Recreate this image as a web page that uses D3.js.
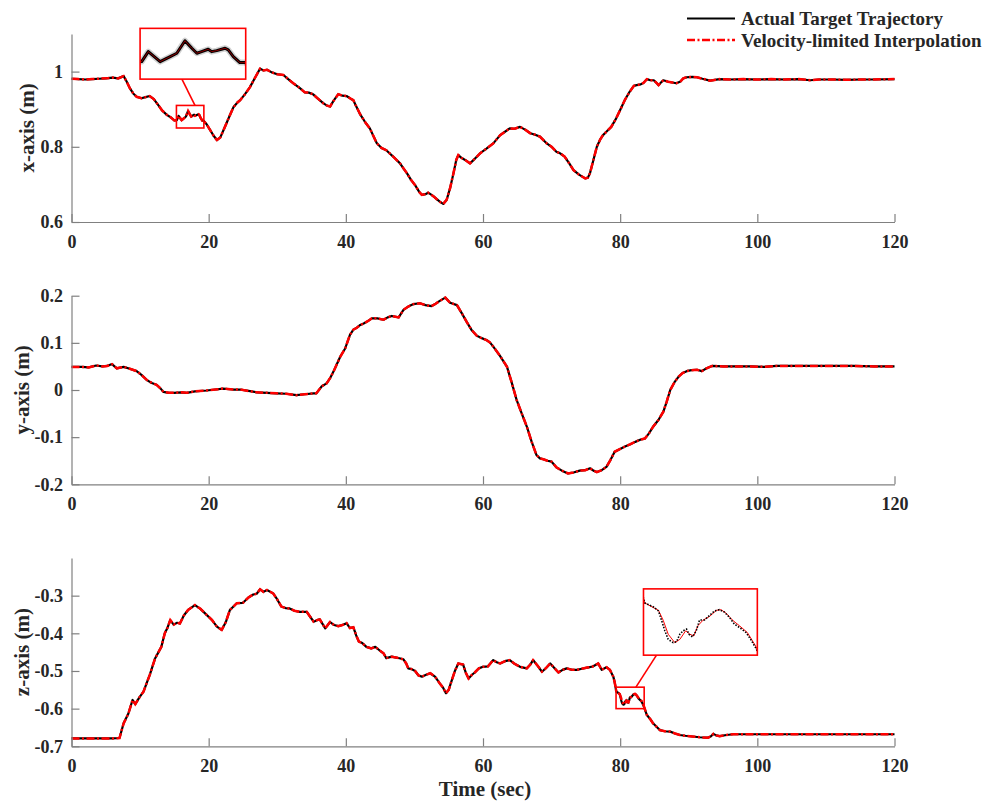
<!DOCTYPE html>
<html><head><meta charset="utf-8">
<script src="https://cdn.jsdelivr.net/npm/d3@7"></script>
<style>body{margin:0;background:#fff}</style>
</head><body><svg id="c" width="1000" height="802"></svg>
<script>
// ---------------- DATA ----------------
const xTicks = [0, 20, 40, 60, 80, 100, 120];
const yTicksX = [0.6, 0.8, 1];
const yTicksY = [-0.2, -0.1, 0, 0.1, 0.2];
const yTicksZ = [-0.7, -0.6, -0.5, -0.4, -0.3];
const seriesNames = ["Actual Target Trajectory", "Velocity-limited Interpolation"];

// x-axis trajectory (time, value)
const timeX = [0,1,2,3,4,5,6,6.8,7.6,8,8.5,9,9.5,10.2,10.8,11.4,12,12.6,13.2,13.9,14.5,15,15.36,15.61,16.06,16.44,16.69,17,17.26,17.45,17.63,17.88,18.01,18.2,18.52,18.64,18.83,19.08,19.27,19.7,20.2,20.7,21.2,21.7,22.3,23,23.6,24.2,24.6,25.3,26,26.8,27.5,28,28.5,29.2,30,30.9,31.6,32.4,33.3,34,34.6,35.2,35.8,36.7,37.2,37.7,38.2,38.9,39.5,40.1,40.7,41.1,41.4,42.1,42.8,43.5,44.5,45.2,45.9,46.9,47.9,48.5,48.9,49.5,50.1,50.7,51.1,51.6,52,52.5,52.8,53.3,53.7,54.2,54.7,55.2,55.7,56.1,56.4,56.9,57.4,58.1,58.8,59.6,60.5,61.5,62.5,63.2,63.9,64.6,65.4,66.2,66.9,67.6,68.3,69.3,70,70.7,71.3,71.9,72.6,73.2,74,74.9,75.3,75.6,76.1,76.6,77.1,77.5,78.1,78.7,79.4,80,80.7,81.4,82,82.4,83,83.4,83.9,84.4,84.9,85.3,85.6,86,86.3,87,87.6,88.2,88.8,89.2,89.7,90.5,91.2,92,93.1,94.5,96,98,100,102,104,106,107.7,109,111,113,115,117,120];
const xActual = [0.981,0.980,0.979,0.980,0.981,0.982,0.984,0.982,0.988,0.975,0.956,0.942,0.933,0.929,0.932,0.935,0.927,0.912,0.897,0.885,0.878,0.870,0.8707,0.8825,0.8707,0.8766,0.8806,0.8954,0.8865,0.8806,0.8825,0.8853,0.8825,0.8837,0.8865,0.8845,0.8766,0.8695,0.8695,0.860,0.845,0.830,0.818,0.825,0.850,0.880,0.905,0.918,0.924,0.940,0.958,0.985,1.008,1.003,1.005,0.998,0.993,0.991,0.980,0.968,0.956,0.945,0.944,0.940,0.930,0.916,0.910,0.907,0.922,0.940,0.936,0.935,0.928,0.924,0.912,0.886,0.866,0.849,0.810,0.797,0.791,0.774,0.756,0.740,0.730,0.712,0.698,0.680,0.672,0.674,0.678,0.672,0.668,0.660,0.654,0.648,0.659,0.690,0.730,0.765,0.778,0.770,0.765,0.756,0.768,0.783,0.795,0.809,0.831,0.840,0.849,0.848,0.853,0.845,0.836,0.832,0.827,0.809,0.800,0.787,0.782,0.774,0.755,0.738,0.726,0.716,0.718,0.730,0.765,0.800,0.820,0.831,0.842,0.853,0.875,0.898,0.925,0.947,0.962,0.964,0.966,0.970,0.980,0.977,0.977,0.970,0.964,0.972,0.977,0.973,0.971,0.969,0.974,0.982,0.985,0.986,0.985,0.981,0.976,0.980,0.979,0.980,0.979,0.980,0.979,0.980,0.977,0.979,0.979,0.978,0.979,0.979,0.980];
const xInterp = xActual.slice();

// y-axis trajectory
const timeY = [0,1.5,2.5,3.6,4.5,5.2,5.9,6.6,7.6,8.5,9.5,10.2,11,11.7,12.4,13,13.4,14.2,14.9,16,16.8,18,19.7,21,22.1,23.5,24.6,25.8,27,28.5,29.9,31.3,32.8,34,35.3,35.7,36.5,37.2,37.7,38.2,38.7,39.2,39.9,40.6,41.1,41.6,42.1,42.6,43.2,43.8,44.6,45.5,46.1,46.7,47.7,48.4,49.1,49.8,50.8,51.6,52.5,53.1,53.7,54.5,55.2,56.2,56.9,57.6,58.3,59.1,59.8,60.5,61,61.5,62,62.5,63.5,64.2,64.9,65.6,66.4,67.1,67.8,68.3,68.8,69.4,70,70.7,71.5,72.4,73.2,74.1,74.9,75.6,76.1,76.6,77.3,78,78.6,79.2,80,80.7,81.5,82.2,83,83.6,84.2,84.8,85.6,86.3,86.8,87.3,87.9,88.5,89.1,89.7,90.4,91.2,91.9,92.6,93.4,95,97,99,101,102.8,105,108,111,114,117,120];
const yActual = [0.049,0.049,0.048,0.052,0.050,0.051,0.055,0.046,0.049,0.045,0.040,0.032,0.021,0.015,0.011,0.003,-0.004,-0.006,-0.006,-0.005,-0.006,-0.003,-0.001,0.001,0.003,0.001,0.001,-0.002,-0.005,-0.006,-0.007,-0.008,-0.011,-0.009,-0.007,-0.007,0.008,0.014,0.025,0.039,0.055,0.071,0.088,0.117,0.128,0.132,0.138,0.141,0.146,0.152,0.152,0.149,0.154,0.157,0.154,0.170,0.177,0.182,0.184,0.180,0.178,0.183,0.189,0.196,0.185,0.180,0.163,0.145,0.128,0.115,0.110,0.106,0.101,0.092,0.082,0.072,0.049,0.015,-0.021,-0.048,-0.078,-0.110,-0.138,-0.145,-0.147,-0.150,-0.152,-0.164,-0.171,-0.177,-0.175,-0.171,-0.170,-0.166,-0.171,-0.174,-0.170,-0.163,-0.148,-0.131,-0.125,-0.120,-0.115,-0.110,-0.105,-0.103,-0.092,-0.078,-0.063,-0.046,-0.024,0.000,0.016,0.028,0.036,0.040,0.042,0.043,0.040,0.046,0.051,0.050,0.050,0.050,0.049,0.051,0.051,0.051,0.051,0.051,0.050,0.050];
const yInterp = yActual.slice();

// z-axis trajectory
const timeZ = [0,2,4,6,7,7.6,8.3,8.9,9.3,9.9,10.5,11,11.4,12.2,13.1,13.6,14,14.4,14.9,15.4,15.8,16.4,17,18,18.8,19.7,20.5,21.2,21.9,22.5,23.1,24.1,25,25.8,26.5,27,27.5,28,28.5,29.4,30,30.6,31.2,31.8,32.5,33.3,34.3,34.8,35.3,35.8,36.2,36.6,37,37.7,38.3,38.9,39.5,40.1,40.6,41.1,41.5,41.9,42.4,43,43.7,44.3,44.9,45.5,45.9,46.7,47.5,48.4,48.8,49.1,49.6,50.1,50.6,51.1,51.7,52.3,53,53.7,54.2,54.6,55,55.3,55.9,56.4,57.1,57.5,57.9,58.4,58.8,59.4,60,60.7,61.5,62,62.5,63.2,63.9,64.6,65.4,66.4,66.9,67.3,68,68.6,69.2,69.8,70.4,71,71.6,72.2,73,73.7,74.4,75.2,76,76.8,77.3,78,78.5,79,79.2,79.44,79.76,79.94,80.05,80.17,80.29,80.47,80.59,80.71,80.83,80.95,81.04,81.16,81.3,81.42,81.6,81.78,81.96,82.13,82.31,82.49,82.67,82.85,83.09,83.26,83.44,83.9,84.4,84.8,85.3,85.8,86.5,87.3,88,88.7,89.5,90.5,91.6,92.8,93.2,93.6,94,94.5,95.5,96.5,98,100,103,106,109,112,115,118,120];
const zActual = [-0.679,-0.679,-0.679,-0.679,-0.678,-0.639,-0.613,-0.577,-0.588,-0.570,-0.555,-0.530,-0.511,-0.466,-0.436,-0.400,-0.385,-0.365,-0.377,-0.372,-0.374,-0.352,-0.338,-0.325,-0.335,-0.351,-0.365,-0.382,-0.391,-0.370,-0.338,-0.320,-0.319,-0.305,-0.297,-0.295,-0.283,-0.290,-0.285,-0.294,-0.310,-0.329,-0.333,-0.334,-0.340,-0.343,-0.343,-0.356,-0.369,-0.365,-0.363,-0.375,-0.387,-0.370,-0.378,-0.381,-0.378,-0.373,-0.386,-0.384,-0.405,-0.422,-0.426,-0.436,-0.440,-0.436,-0.445,-0.453,-0.466,-0.462,-0.465,-0.469,-0.480,-0.493,-0.495,-0.500,-0.512,-0.515,-0.510,-0.506,-0.515,-0.533,-0.545,-0.559,-0.550,-0.533,-0.500,-0.480,-0.483,-0.505,-0.520,-0.510,-0.504,-0.493,-0.489,-0.488,-0.471,-0.477,-0.480,-0.474,-0.471,-0.481,-0.489,-0.493,-0.483,-0.471,-0.487,-0.502,-0.492,-0.480,-0.492,-0.504,-0.497,-0.493,-0.497,-0.497,-0.494,-0.491,-0.488,-0.480,-0.497,-0.490,-0.497,-0.515,-0.530,-0.555,-0.5585,-0.562,-0.570,-0.579,-0.5864,-0.5893,-0.5884,-0.582,-0.579,-0.5776,-0.582,-0.5843,-0.579,-0.5697,-0.5697,-0.5659,-0.562,-0.5609,-0.5629,-0.5673,-0.5732,-0.5761,-0.5805,-0.5864,-0.5937,-0.617,-0.628,-0.639,-0.648,-0.657,-0.660,-0.661,-0.666,-0.670,-0.672,-0.674,-0.676,-0.677,-0.674,-0.667,-0.671,-0.673,-0.670,-0.668,-0.668,-0.668,-0.668,-0.668,-0.668,-0.668,-0.668,-0.668,-0.668];
// velocity-limited interpolation inside the z zoom window (lags and smooths the actual signal)
const timeZInterpWin = [79.44,79.94,80.11,80.29,80.53,80.71,80.92,81.07,81.21,81.36,81.54,81.78,82.02,82.19,82.37,82.61,82.85,83.14,83.44];
const zInterpWin = [-0.555,-0.5615,-0.570,-0.582,-0.5893,-0.5864,-0.579,-0.582,-0.5835,-0.5747,-0.570,-0.5667,-0.5615,-0.5609,-0.5638,-0.570,-0.5746,-0.5805,-0.5922];

// zoom windows [t0, t1, v0, v1]
const zoomWinX = [15.3, 19.3, 0.85, 0.91];
const zoomWinZ = [79.4, 83.5, -0.60, -0.543];

// ---------------- DRAW ----------------
const svg = d3.select("#c");
const FONT = "'Liberation Serif','Times New Roman',serif";
const AXC = "#808080", TXC = "#262626", RED = "#ff0000";
const DASH = "8,2.5,2,2.5";
const xs = d3.scaleLinear().domain([0, 120]).range([71.5, 894.5]);

const zip = (t, v) => t.map((d, i) => [d, v[i]]);
const zAct = zip(timeZ, zActual);
const zInt = zAct.filter(d => d[0] < timeZInterpWin[0] || d[0] > timeZInterpWin[timeZInterpWin.length - 1])
  .concat(zip(timeZInterpWin, zInterpWin)).sort((a, b) => a[0] - b[0]);

const panels = [
  {top: 34, bottom: 222, domain: [0.6, 1.1], ticks: yTicksX, label: "x-axis (m)", labelX: 34,
   act: zip(timeX, xActual), int: zip(timeX, xInterp)},
  {top: 295.7, bottom: 484.3, domain: [-0.2, 0.2], ticks: yTicksY, label: "y-axis (m)", labelX: 28.5,
   act: zip(timeY, yActual), int: zip(timeY, yInterp)},
  {top: 558, bottom: 746.3, domain: [-0.7, -0.2], ticks: yTicksZ, label: "z-axis (m)", labelX: 28.5,
   act: zAct, int: zInt}
];

const fmt = d => (d < 0 ? "-" : "") + String(Math.abs(d));

panels.forEach((p, i) => {
  const ys = d3.scaleLinear().domain(p.domain).range([p.bottom, p.top]);
  p.ys = ys;
  const g = svg.append("g");
  const line = d3.line().x(d => xs(d[0])).y(d => ys(d[1]));
  g.append("path").attr("d", line(p.act)).attr("fill", "none").attr("stroke", "#000").attr("stroke-width", 2.2)
    .attr("stroke-linejoin", "round");
  g.append("path").attr("d", line(p.int)).attr("fill", "none").attr("stroke", RED).attr("stroke-width", 2.5)
    .attr("stroke-dasharray", DASH);

  const ax = g.append("g").attr("transform", `translate(0,${p.bottom})`)
    .call(d3.axisBottom(xs).tickValues(xTicks).tickSizeInner(-8).tickSizeOuter(0).tickPadding(13).tickFormat(d => d));
  const ay = g.append("g").attr("transform", `translate(${xs.range()[0]},0)`)
    .call(d3.axisLeft(ys).tickValues(p.ticks).tickSizeInner(-8).tickSizeOuter(0).tickPadding(8.5).tickFormat(fmt));
  [ax, ay].forEach(a => {
    a.selectAll("path,line").attr("stroke", AXC).attr("stroke-width", 1.2);
    a.selectAll("text").attr("fill", TXC).style("font-family", FONT).style("font-weight", "bold").style("font-size", "18px");
  });
  g.append("text").attr("transform", `translate(${p.labelX},${(p.top + p.bottom) / 2}) rotate(-90)`)
    .attr("text-anchor", "middle").attr("fill", TXC)
    .style("font-family", FONT).style("font-weight", "bold").style("font-size", "21px").text(p.label);
});

// x label
svg.append("text").attr("x", (xs.range()[0] + xs.range()[1]) / 2 + 2).attr("y", 796).attr("text-anchor", "middle")
  .attr("fill", TXC).style("font-family", FONT).style("font-weight", "bold").style("font-size", "21px").text("Time (sec)");

// insets
function inset(p, win, box, conn, opts, id) {
  const ys = p.ys;
  const sx0 = xs(win[0]), sx1 = xs(win[1]), sy0 = ys(win[3]), sy1 = ys(win[2]);
  const bx0 = xs(box[0]), bx1 = xs(box[1]), by0 = ys(box[3]), by1 = ys(box[2]);
  svg.append("line").attr("x1", xs(conn[0])).attr("y1", by1).attr("x2", xs(conn[1])).attr("y2", sy0)
    .attr("stroke", RED).attr("stroke-width", 1.6);
  svg.append("rect").attr("x", sx0).attr("y", sy0).attr("width", sx1 - sx0).attr("height", sy1 - sy0)
    .attr("fill", "none").attr("stroke", RED).attr("stroke-width", 1.6);
  svg.append("rect").attr("x", bx0).attr("y", by0).attr("width", bx1 - bx0).attr("height", by1 - by0)
    .attr("fill", "#fff").attr("stroke", "none");
  svg.append("clipPath").attr("id", id).append("rect").attr("x", bx0).attr("y", by0).attr("width", bx1 - bx0).attr("height", by1 - by0);
  const ix = d3.scaleLinear().domain([win[0], win[1]]).range([bx0, bx1]);
  const iy = d3.scaleLinear().domain([win[2], win[3]]).range([by1, by0]);
  const l = d3.line().x(d => ix(d[0])).y(d => iy(d[1]));
  const sel = arr => arr.filter(d => d[0] >= win[0] - 0.6 && d[0] <= win[1] + 0.6);
  const g = svg.append("g").attr("clip-path", `url(#${id})`);
  opts(g, l(sel(p.act)), l(sel(p.int)));
  svg.append("rect").attr("x", bx0).attr("y", by0).attr("width", bx1 - bx0).attr("height", by1 - by0)
    .attr("fill", "none").attr("stroke", RED).attr("stroke-width", 1.6);
}
inset(panels[0], zoomWinX, [10, 25.4, 0.98, 1.115], [16.1, 18.0], (g, a, r) => {
  g.append("path").attr("d", a).attr("fill", "none").attr("stroke", "#999").attr("stroke-width", 6).attr("opacity", 0.45)
    .attr("stroke-linejoin", "round");
  g.append("path").attr("d", a).attr("fill", "none").attr("stroke", "#000").attr("stroke-width", 3)
    .attr("stroke-linejoin", "round");
  g.append("path").attr("d", r).attr("fill", "none").attr("stroke", RED).attr("stroke-width", 0.8).attr("opacity", 0.7);
}, "clipX");
inset(panels[2], zoomWinZ, [83.4, 100, -0.458, -0.282], [85.3, 82.3], (g, a, r) => {
  g.append("path").attr("d", r).attr("fill", "none").attr("stroke", RED).attr("stroke-width", 1);
  g.append("path").attr("d", a).attr("fill", "none").attr("stroke", "#000").attr("stroke-width", 1.6)
    .attr("stroke-dasharray", "1.5,1.5");
}, "clipZ");

// legend
const lg = svg.append("g");
[0, 1].forEach(i => {
  const y = i === 0 ? 18.5 : 40;
  const ln = lg.append("line").attr("x1", 687).attr("x2", 735).attr("y1", y).attr("y2", y)
    .attr("stroke", i === 0 ? "#000" : RED).attr("stroke-width", i === 0 ? 1.8 : 2.5);
  if (i === 1) ln.attr("stroke-dasharray", DASH);
  lg.append("text").attr("x", 741).attr("y", y + 6.5).attr("fill", TXC)
    .style("font-family", FONT).style("font-weight", "bold").style("font-size", "19px").text(seriesNames[i]);
});
</script></body></html>
